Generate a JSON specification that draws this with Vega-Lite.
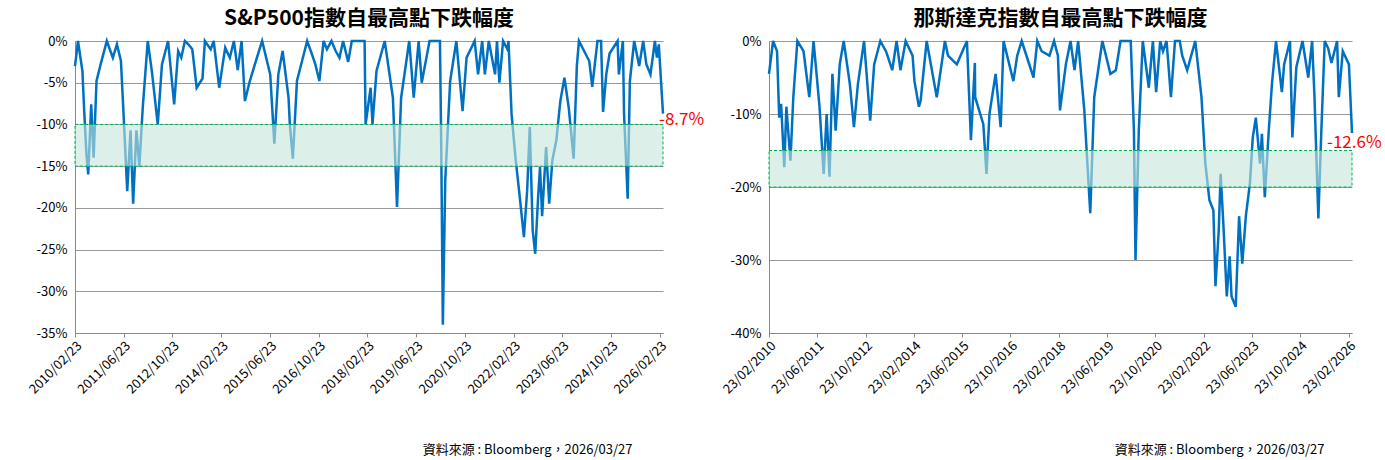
{
  "$schema": "https://vega.github.io/schema/vega-lite/v6.json",
  "padding": {"left": 26, "top": 8, "right": 5, "bottom": 5},
  "spacing": 15,
  "datasets": {
    "sp": [
      {"d": "2010/02/23", "v": -3}, {"d": "2010/03/25", "v": 0}, {"d": "2010/05/08", "v": -3.6}, {"d": "2010/05/26", "v": -8.4},
      {"d": "2010/06/17", "v": -13.5}, {"d": "2010/07/05", "v": -16}, {"d": "2010/08/04", "v": -7.6}, {"d": "2010/08/28", "v": -14},
      {"d": "2010/09/26", "v": -4.8}, {"d": "2010/11/06", "v": -2.8}, {"d": "2011/01/07", "v": 0}, {"d": "2011/03/08", "v": -2},
      {"d": "2011/04/18", "v": -0.4}, {"d": "2011/05/28", "v": -2.4}, {"d": "2011/06/17", "v": -7.2}, {"d": "2011/07/30", "v": -18},
      {"d": "2011/09/01", "v": -10.7}, {"d": "2011/09/27", "v": -19.5}, {"d": "2011/10/30", "v": -10.7}, {"d": "2011/11/28", "v": -15},
      {"d": "2012/01/01", "v": -8}, {"d": "2012/02/20", "v": 0}, {"d": "2012/04/01", "v": -3.6}, {"d": "2012/05/30", "v": -10},
      {"d": "2012/07/11", "v": -2.8}, {"d": "2012/09/10", "v": 0}, {"d": "2012/11/10", "v": -7.6}, {"d": "2012/12/20", "v": -1.2},
      {"d": "2013/01/20", "v": -2}, {"d": "2013/02/25", "v": 0}, {"d": "2013/04/01", "v": -0.4}, {"d": "2013/05/10", "v": -1},
      {"d": "2013/06/23", "v": -5.6}, {"d": "2013/08/20", "v": -4.5}, {"d": "2013/09/13", "v": 0}, {"d": "2013/11/10", "v": -1},
      {"d": "2013/12/10", "v": 0}, {"d": "2014/02/03", "v": -5.6}, {"d": "2014/04/04", "v": -0.8}, {"d": "2014/05/20", "v": -2},
      {"d": "2014/06/30", "v": 0}, {"d": "2014/08/07", "v": -3.5}, {"d": "2014/09/15", "v": 0}, {"d": "2014/10/18", "v": -7.2}, {"d": "2014/12/06", "v": -4.8},
      {"d": "2015/01/20", "v": -3}, {"d": "2015/04/08", "v": 0}, {"d": "2015/06/28", "v": -4}, {"d": "2015/08/08", "v": -12.3}, {"d": "2015/09/17", "v": -4},
      {"d": "2015/10/30", "v": -1.2}, {"d": "2015/12/28", "v": -6.8}, {"d": "2016/01/10", "v": -10}, {"d": "2016/02/09", "v": -14.1}, {"d": "2016/03/21", "v": -4.8},
      {"d": "2016/07/01", "v": 0}, {"d": "2016/08/15", "v": -1.5}, {"d": "2016/09/21", "v": -2.8}, {"d": "2016/10/31", "v": -4.8}, {"d": "2016/12/12", "v": 0},
      {"d": "2017/01/15", "v": -1}, {"d": "2017/03/01", "v": 0}, {"d": "2017/04/12", "v": -1.2}, {"d": "2017/05/20", "v": -2}, {"d": "2017/06/25", "v": 0},
      {"d": "2017/08/15", "v": -2.5}, {"d": "2017/09/20", "v": 0}, {"d": "2017/11/03", "v": 0}, {"d": "2018/01/26", "v": 0}, {"d": "2018/02/05", "v": -10},
      {"d": "2018/03/27", "v": -5.6}, {"d": "2018/04/15", "v": -10}, {"d": "2018/05/25", "v": -3.6}, {"d": "2018/08/15", "v": 0},
      {"d": "2018/11/05", "v": -6.8}, {"d": "2018/12/16", "v": -19.9}, {"d": "2019/01/26", "v": -6.8}, {"d": "2019/04/17", "v": 0},
      {"d": "2019/06/01", "v": -6.8}, {"d": "2019/07/20", "v": 0}, {"d": "2019/08/20", "v": -5}, {"d": "2019/11/06", "v": 0},
      {"d": "2020/02/18", "v": 0}, {"d": "2020/03/02", "v": -12.7}, {"d": "2020/03/18", "v": -34}, {"d": "2020/04/11", "v": -16.7},
      {"d": "2020/05/30", "v": -4.8}, {"d": "2020/07/31", "v": 0}, {"d": "2020/10/01", "v": -8.4}, {"d": "2020/11/10", "v": -2},
      {"d": "2021/01/30", "v": 0}, {"d": "2021/03/05", "v": -4}, {"d": "2021/04/15", "v": 0}, {"d": "2021/05/12", "v": -4},
      {"d": "2021/06/20", "v": 0}, {"d": "2021/08/22", "v": -4}, {"d": "2021/09/10", "v": 0}, {"d": "2021/10/04", "v": -5}, {"d": "2021/11/10", "v": 0},
      {"d": "2021/12/24", "v": -1}, {"d": "2022/01/03", "v": 0}, {"d": "2022/02/03", "v": -8.8},
      {"d": "2022/03/14", "v": -14}, {"d": "2022/04/22", "v": -18.3}, {"d": "2022/06/06", "v": -23.5}, {"d": "2022/07/08", "v": -18},
      {"d": "2022/08/04", "v": -10.3}, {"d": "2022/09/02", "v": -22.7}, {"d": "2022/09/27", "v": -25.5}, {"d": "2022/10/26", "v": -18.7},
      {"d": "2022/11/14", "v": -15.1}, {"d": "2022/12/05", "v": -21}, {"d": "2023/01/14", "v": -12.7}, {"d": "2023/02/14", "v": -19.5},
      {"d": "2023/03/17", "v": -14.3}, {"d": "2023/04/26", "v": -11.9}, {"d": "2023/06/05", "v": -7.2}, {"d": "2023/07/16", "v": -4.4},
      {"d": "2023/08/28", "v": -8}, {"d": "2023/10/16", "v": -14.1}, {"d": "2023/11/17", "v": -3}, {"d": "2023/12/08", "v": 0},
      {"d": "2024/03/20", "v": -2.4}, {"d": "2024/04/19", "v": -5.5}, {"d": "2024/06/10", "v": 0}, {"d": "2024/07/16", "v": 0},
      {"d": "2024/08/05", "v": -8.5}, {"d": "2024/09/06", "v": -4}, {"d": "2024/10/09", "v": -1.5}, {"d": "2024/12/28", "v": 0},
      {"d": "2025/01/10", "v": -4}, {"d": "2025/02/19", "v": 0},
      {"d": "2025/03/03", "v": -8.8}, {"d": "2025/04/08", "v": -18.9}, {"d": "2025/04/30", "v": -4.8}, {"d": "2025/06/12", "v": 0},
      {"d": "2025/08/01", "v": -3}, {"d": "2025/09/10", "v": 0},
      {"d": "2025/10/12", "v": -2.8}, {"d": "2025/11/22", "v": -4}, {"d": "2026/01/05", "v": 0}, {"d": "2026/01/25", "v": -2}, {"d": "2026/02/13", "v": -0.4}, {"d": "2026/03/27", "v": -8.7}
    ],
    "nq": [
      {"d": "2010/02/23", "v": -4.5}, {"d": "2010/04/05", "v": 0}, {"d": "2010/05/15", "v": -1.4}, {"d": "2010/06/06", "v": -10.5},
      {"d": "2010/06/25", "v": -8.6}, {"d": "2010/07/27", "v": -17.3}, {"d": "2010/08/17", "v": -9}, {"d": "2010/09/27", "v": -16.4},
      {"d": "2010/10/26", "v": -7.7}, {"d": "2010/12/06", "v": 0}, {"d": "2011/02/06", "v": -1.4}, {"d": "2011/04/05", "v": -7.7},
      {"d": "2011/05/18", "v": 0}, {"d": "2011/07/17", "v": -9}, {"d": "2011/08/28", "v": -18.2}, {"d": "2011/09/27", "v": -10},
      {"d": "2011/10/26", "v": -18.6}, {"d": "2011/11/24", "v": -4.5}, {"d": "2011/12/27", "v": -12.3}, {"d": "2012/02/06", "v": -3.2},
      {"d": "2012/03/17", "v": 0}, {"d": "2012/05/18", "v": -5.9}, {"d": "2012/06/28", "v": -11.8}, {"d": "2012/08/07", "v": -5.9},
      {"d": "2012/10/08", "v": 0}, {"d": "2012/12/09", "v": -10.9}, {"d": "2013/01/18", "v": -3.2}, {"d": "2013/03/21", "v": 0},
      {"d": "2013/05/20", "v": -1.5}, {"d": "2013/07/19", "v": -4}, {"d": "2013/09/01", "v": 0}, {"d": "2013/10/10", "v": -4}, {"d": "2013/12/01", "v": 0},
      {"d": "2014/02/09", "v": -2}, {"d": "2014/02/28", "v": -5.5}, {"d": "2014/04/14", "v": -9}, {"d": "2014/05/01", "v": -8.2},
      {"d": "2014/07/01", "v": 0}, {"d": "2014/10/11", "v": -7.7}, {"d": "2015/01/01", "v": 0}, {"d": "2015/02/01", "v": -2}, {"d": "2015/05/01", "v": -3.2},
      {"d": "2015/08/11", "v": 0}, {"d": "2015/09/20", "v": -13.6}, {"d": "2015/10/30", "v": -3}, {"d": "2015/11/02", "v": -7.7}, {"d": "2016/01/23", "v": -11.4},
      {"d": "2016/02/24", "v": -18.2}, {"d": "2016/03/25", "v": -10}, {"d": "2016/05/26", "v": -4.5}, {"d": "2016/07/16", "v": -11.8},
      {"d": "2016/08/14", "v": 0}, {"d": "2016/11/21", "v": -5.5}, {"d": "2016/12/30", "v": -2}, {"d": "2017/02/13", "v": 0}, {"d": "2017/06/12", "v": -5},
      {"d": "2017/07/20", "v": 0}, {"d": "2017/09/02", "v": -1.4}, {"d": "2017/11/20", "v": -2}, {"d": "2018/01/05", "v": 0},
      {"d": "2018/02/13", "v": -2}, {"d": "2018/03/06", "v": -9.5}, {"d": "2018/05/04", "v": -3.2}, {"d": "2018/06/20", "v": 0},
      {"d": "2018/07/30", "v": -4}, {"d": "2018/09/05", "v": 0},
      {"d": "2018/11/06", "v": -9.5}, {"d": "2019/01/05", "v": -23.6}, {"d": "2019/02/14", "v": -7.7}, {"d": "2019/05/07", "v": 0},
      {"d": "2019/07/27", "v": -4.5}, {"d": "2019/09/20", "v": -4}, {"d": "2019/11/06", "v": 0}, {"d": "2020/02/17", "v": 0}, {"d": "2020/03/20", "v": -12.3},
      {"d": "2020/04/05", "v": -30}, {"d": "2020/05/08", "v": -12.3}, {"d": "2020/06/17", "v": 0}, {"d": "2020/08/17", "v": -6.4},
      {"d": "2020/09/27", "v": 0}, {"d": "2020/10/30", "v": -7}, {"d": "2020/12/10", "v": 0}, {"d": "2021/01/07", "v": -1.4}, {"d": "2021/02/12", "v": 0},
      {"d": "2021/03/28", "v": -7.7}, {"d": "2021/05/08", "v": 0}, {"d": "2021/06/25", "v": 0}, {"d": "2021/07/20", "v": -2},
      {"d": "2021/09/08", "v": -4}, {"d": "2021/11/28", "v": 0}, {"d": "2022/01/30", "v": -7.7}, {"d": "2022/03/10", "v": -16.8},
      {"d": "2022/04/20", "v": -21.8}, {"d": "2022/05/30", "v": -23.2}, {"d": "2022/06/20", "v": -33.6}, {"d": "2022/07/23", "v": -25.9},
      {"d": "2022/08/11", "v": -18.2}, {"d": "2022/09/09", "v": -25.5}, {"d": "2022/10/12", "v": -35}, {"d": "2022/11/10", "v": -29.5},
      {"d": "2022/11/29", "v": -35}, {"d": "2023/01/10", "v": -36.4}, {"d": "2023/02/13", "v": -24}, {"d": "2023/03/17", "v": -30.5},
      {"d": "2023/04/22", "v": -24}, {"d": "2023/06/02", "v": -19.5}, {"d": "2023/07/01", "v": -13.2}, {"d": "2023/08/01", "v": -10.5},
      {"d": "2023/09/12", "v": -16.8}, {"d": "2023/10/01", "v": -12.7}, {"d": "2023/10/30", "v": -21.4}, {"d": "2023/12/09", "v": -12.3},
      {"d": "2024/01/10", "v": -5.9}, {"d": "2024/02/20", "v": 0}, {"d": "2024/04/19", "v": -7}, {"d": "2024/05/12", "v": -3.2},
      {"d": "2024/07/10", "v": 0}, {"d": "2024/08/03", "v": -13.2},
      {"d": "2024/09/12", "v": -3.6}, {"d": "2024/11/13", "v": 0}, {"d": "2025/01/10", "v": -5}, {"d": "2025/02/18", "v": 0},
      {"d": "2025/03/14", "v": -7.7}, {"d": "2025/04/22", "v": -24.3},
      {"d": "2025/05/22", "v": -12.3}, {"d": "2025/06/25", "v": 0}, {"d": "2025/07/30", "v": -1}, {"d": "2025/09/01", "v": -3}, {"d": "2025/10/28", "v": 0},
      {"d": "2025/11/14", "v": -7.7}, {"d": "2025/12/24", "v": -1.4},
      {"d": "2026/02/24", "v": -3.2}, {"d": "2026/03/27", "v": -12.6}
    ]
  },
  "hconcat": [
    {
      "width": 588,
      "height": 292,
      "title": "S&P500指數自最高點下跌幅度",
      "layer": [
        {
          "data": {"name": "sp"},
          "mark": {"type": "line", "color": "#0070c0", "strokeWidth": 2.5},
          "encoding": {
            "x": {
              "field": "d", "type": "temporal",
              "scale": {"domain": [{"year": 2010, "month": 2, "date": 23}, {"year": 2026, "month": 3, "date": 27}]},
              "axis": {
                "format": "%Y/%m/%d",
                "values": [
                  {"year": 2010, "month": 2, "date": 23}, {"year": 2011, "month": 6, "date": 23}, {"year": 2012, "month": 10, "date": 23},
                  {"year": 2014, "month": 2, "date": 23}, {"year": 2015, "month": 6, "date": 23}, {"year": 2016, "month": 10, "date": 23},
                  {"year": 2018, "month": 2, "date": 23}, {"year": 2019, "month": 6, "date": 23}, {"year": 2020, "month": 10, "date": 23},
                  {"year": 2022, "month": 2, "date": 23}, {"year": 2023, "month": 6, "date": 23}, {"year": 2024, "month": 10, "date": 23},
                  {"year": 2026, "month": 2, "date": 23}
                ],
                "title": "資料來源 : Bloomberg，2026/03/27",
                "titleAnchor": null, "titleAlign": "right", "titleX": 557, "titleY": 110
              }
            },
            "y": {
              "field": "v", "type": "quantitative",
              "scale": {"domain": [-35, 0]},
              "axis": {"values": [0, -5, -10, -15, -20, -25, -30, -35], "labelExpr": "datum.value + '%'", "title": null, "grid": true}
            }
          }
        },
        {
          "data": {"values": [{"lo": -15, "hi": -10}]},
          "mark": {"type": "rect", "fill": "#c5e6da", "fillOpacity": 0.6, "stroke": "#00b050", "strokeDash": [3, 2], "strokeWidth": 1},
          "encoding": {"y": {"field": "lo", "type": "quantitative"}, "y2": {"field": "hi"}}
        },
        {
          "data": {"values": [{"d": "2026/03/27", "v": -8.7, "t": "-8.7%"}]},
          "mark": {"type": "text", "color": "#ff0000", "fontSize": 17, "align": "left", "dx": -4, "dy": 6},
          "encoding": {"x": {"field": "d", "type": "temporal"}, "y": {"field": "v", "type": "quantitative"}, "text": {"field": "t"}}
        }
      ]
    },
    {
      "width": 583,
      "height": 292,
      "title": "那斯達克指數自最高點下跌幅度",
      "layer": [
        {
          "data": {"name": "nq"},
          "mark": {"type": "line", "color": "#0070c0", "strokeWidth": 2.5},
          "encoding": {
            "x": {
              "field": "d", "type": "temporal",
              "scale": {"domain": [{"year": 2010, "month": 2, "date": 23}, {"year": 2026, "month": 3, "date": 27}]},
              "axis": {
                "format": "%d/%m/%Y",
                "values": [
                  {"year": 2010, "month": 2, "date": 23}, {"year": 2011, "month": 6, "date": 23}, {"year": 2012, "month": 10, "date": 23},
                  {"year": 2014, "month": 2, "date": 23}, {"year": 2015, "month": 6, "date": 23}, {"year": 2016, "month": 10, "date": 23},
                  {"year": 2018, "month": 2, "date": 23}, {"year": 2019, "month": 6, "date": 23}, {"year": 2020, "month": 10, "date": 23},
                  {"year": 2022, "month": 2, "date": 23}, {"year": 2023, "month": 6, "date": 23}, {"year": 2024, "month": 10, "date": 23},
                  {"year": 2026, "month": 2, "date": 23}
                ],
                "title": "資料來源 : Bloomberg，2026/03/27",
                "titleAnchor": null, "titleAlign": "right", "titleX": 555, "titleY": 110
              }
            },
            "y": {
              "field": "v", "type": "quantitative",
              "scale": {"domain": [-40, 0]},
              "axis": {"values": [0, -5, -10, -15, -20, -25, -30, -35, -40], "labelExpr": "datum.value + '%'", "title": null, "grid": true}
            }
          }
        },
        {
          "data": {"values": [{"lo": -20, "hi": -15}]},
          "mark": {"type": "rect", "fill": "#c5e6da", "fillOpacity": 0.6, "stroke": "#00b050", "strokeDash": [3, 2], "strokeWidth": 1},
          "encoding": {"y": {"field": "lo", "type": "quantitative"}, "y2": {"field": "hi"}}
        },
        {
          "data": {"values": [{"d": "2026/03/27", "v": -12.6, "t": "-12.6%"}]},
          "mark": {"type": "text", "color": "#ff0000", "fontSize": 17, "align": "left", "dx": -25, "dy": 10},
          "encoding": {"x": {"field": "d", "type": "temporal"}, "y": {"field": "v", "type": "quantitative"}, "text": {"field": "t"}}
        }
      ]
    }
  ],
  "config": {
    "font": "Noto Sans CJK TC",
    "view": {"stroke": null},
    "title": {"fontSize": 21, "fontWeight": "bold", "color": "#000000", "offset": 6},
    "axis": {"labelFont": "Noto Sans CJK TC", "labelFontSize": 13, "labelColor": "#000000", "domainColor": "#888888", "gridColor": "#999999", "tickColor": "#888888",
             "titleFont": "Noto Sans CJK TC", "titleFontSize": 13, "titleFontWeight": "normal", "titleColor": "#000000"},
    "axisY": {"ticks": false, "domain": true, "labelPadding": 8},
    "axisX": {"grid": false, "tickSize": 4, "labelAngle": -45, "labelOverlap": false, "labelBound": false}
  }
}
